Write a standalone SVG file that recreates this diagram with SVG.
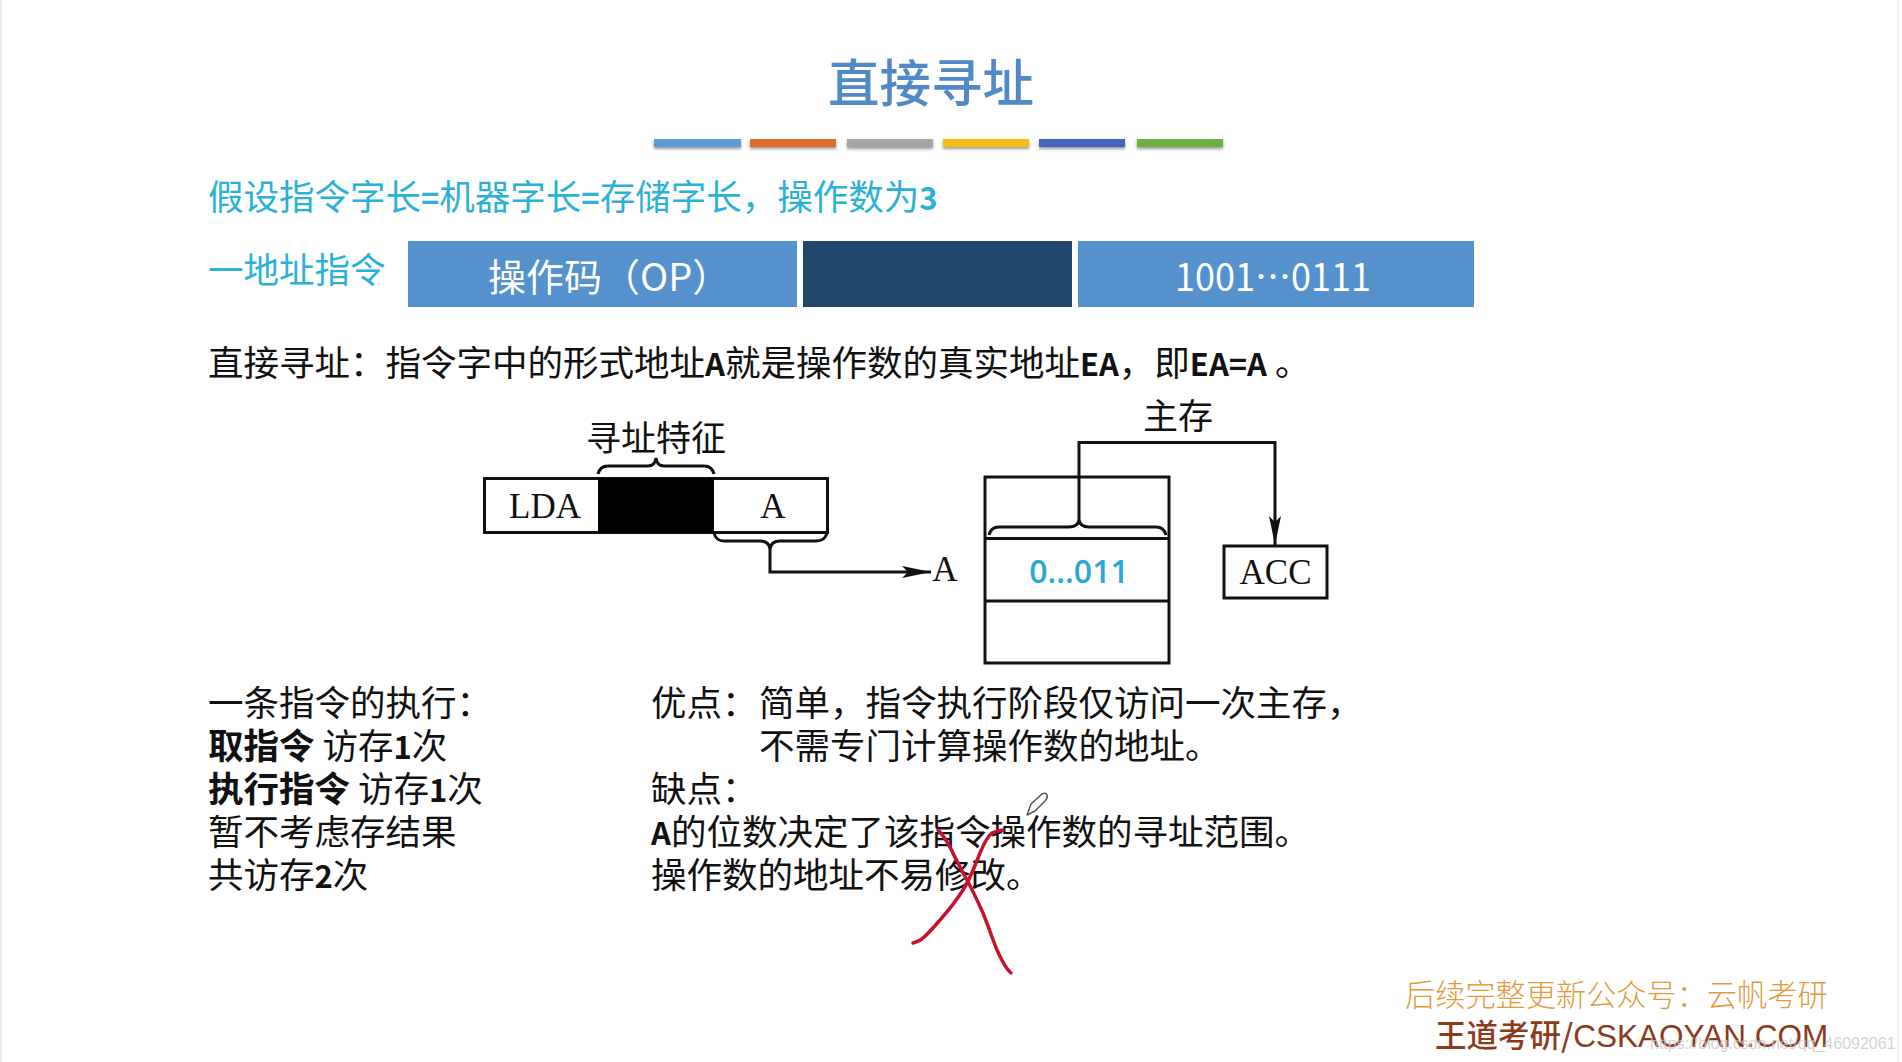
<svg xmlns="http://www.w3.org/2000/svg" width="1902" height="1062" viewBox="0 0 1902 1062">
<defs>
<style>
text{font-family:"Noto Sans CJK SC","Liberation Sans",sans-serif}
.b{font-size:35.500px;fill:#111}
.c{font-size:35.500px;fill:#2BB0D8}
.s{font-family:"Liberation Serif","Noto Sans CJK SC",serif;font-size:35px;fill:#111}
.w{font-size:38px;fill:#fff}
.l{fill:none;stroke:#111;stroke-width:3}
.red{fill:none;stroke:#C4122F;stroke-width:3.500;stroke-linecap:round;stroke-linejoin:round}
.m{font-weight:700;font-size:31px}
</style>
<marker id="ah" markerUnits="userSpaceOnUse" markerWidth="30" markerHeight="16" refX="29" refY="8" orient="auto"><path d="M0 2L29 8L0 14L6 8Z" fill="#111"/></marker>
<filter id="sh" x="-5%" y="-50%" width="110%" height="250%"><feDropShadow dx="0" dy="2" stdDeviation="1.500" flood-color="#000" flood-opacity=".4"/></filter>
</defs>
<rect width="1902" height="1062" fill="#fff"/>
<rect id="edge-left" width="2" height="1062" fill="#ebebeb"/>
<rect id="edge-right" x="1897" width="2" height="1062" fill="#f3f3f3"/>
<g id="title"><text x="931" y="102" text-anchor="middle" font-size="51.500" font-weight="500" fill="#4F8AC6">直接寻址</text></g>
<g id="bars" filter="url(#sh)">
<rect x="654" y="139" width="87" height="8" fill="#5B9BD5"/>
<rect x="750" y="139" width="86" height="8" fill="#E06C2C"/>
<rect x="847" y="139" width="86" height="8" fill="#A5A5A5"/>
<rect x="943" y="139" width="86" height="8" fill="#F5BC14"/>
<rect x="1039" y="139" width="86" height="8" fill="#4268BC"/>
<rect x="1137" y="139" width="86" height="8" fill="#6CB041"/>
</g>
<g id="assume"><text class="c" x="208" y="210">假设指令字长<tspan class="m">=</tspan>机器字长<tspan class="m">=</tspan>存储字长，操作数为<tspan class="m">3</tspan></text></g>
<g id="label-instr"><text class="c" x="208" y="283">一地址指令</text></g>
<g id="field-op"><rect x="408" y="241" width="389" height="66" fill="#5591CD"/><text class="w" x="488" y="291">操作码（OP）</text></g>
<g id="field-mode"><rect x="803" y="241" width="269" height="66" fill="#20466D"/></g>
<g id="field-addr"><rect x="1078" y="241" width="396" height="66" fill="#5591CD"/><text class="w" x="1273" y="291" text-anchor="middle" font-size="36" textLength="196" lengthAdjust="spacingAndGlyphs">1001⋯0111</text></g>
<g id="definition"><text class="b" x="208" y="376">直接寻址：指令字中的形式地址<tspan class="m">A</tspan>就是操作数的真实地址<tspan class="m">EA</tspan>，即<tspan class="m">EA=A</tspan> 。</text></g>
<g id="node-instruction">
<rect class="l" x="484.500" y="478.500" width="343" height="54"/>
<rect x="598" y="478" width="116" height="55" fill="#000"/>
<text class="s" x="545" y="518" text-anchor="middle" font-size="36">LDA</text>
<text class="s" x="773" y="518" text-anchor="middle">A</text>
<text class="s" x="656" y="451" text-anchor="middle" font-size="36">寻址特征</text>
<path class="l" d="M598 474Q600 466 608 466H648Q655 466 656 458Q657 466 664 466H704Q712 466 714 474"/>
<path class="l" d="M714 533Q716 541 724 541H760Q769 541 770 549Q771 541 780 541H816Q825 541 827 533"/>
</g>
<g id="node-a-label"><text class="s" x="945" y="581" text-anchor="middle">A</text></g>
<g id="node-memory">
<rect class="l" x="985" y="477" width="184" height="186"/>
<path class="l" d="M985 538.500H1169M985 601H1169"/>
<text x="1079" y="583" text-anchor="middle" font-size="32" font-weight="600" fill="#2BA7D3" style="font-family:'Open Sans','Liberation Sans',sans-serif">0...011</text>
<text class="s" x="1178" y="429" text-anchor="middle" font-size="36">主存</text>
<path class="l" d="M989 535Q991 527 999 527H1069Q1078 527 1079 520Q1080 527 1089 527H1156Q1164 527 1166 535"/>
</g>
<g id="node-acc"><rect class="l" x="1224" y="546" width="103" height="52"/><text class="s" x="1275.500" y="584" text-anchor="middle">ACC</text></g>
<g id="connectors">
<path class="l" d="M770 549V572H931" marker-end="url(#ah)"/>
<path class="l" d="M1079 520V442.500H1275V545" marker-end="url(#ah)"/>
</g>
<g id="exec-text">
<text class="b" x="208" y="716">一条指令的执行：</text>
<text class="b" x="208" y="759"><tspan font-weight="700">取指令</tspan> 访存<tspan class="m">1</tspan>次</text>
<text class="b" x="208" y="802"><tspan font-weight="700">执行指令</tspan> 访存<tspan class="m">1</tspan>次</text>
<text class="b" x="208" y="845">暂不考虑存结果</text>
<text class="b" x="208" y="888">共访存<tspan class="m">2</tspan>次</text>
</g>
<g id="pros-cons">
<text class="b" x="651" y="716">优点：</text>
<text class="b" x="759" y="716">简单，指令执行阶段仅访问一次主存，</text>
<text class="b" x="759" y="759">不需专门计算操作数的地址。</text>
<text class="b" x="651" y="802">缺点：</text>
<text class="b" x="651" y="845"><tspan class="m">A</tspan>的位数决定了该指令操作数的寻址范围。</text>
<text class="b" x="651" y="888">操作数的地址不易修改。</text>
</g>
<g id="annotation">
<path class="red" d="M938 830C944 836 948 843 952 851C957 862 962 871 967 880C973 891 978 902 983 913C988 925 992 938 997 950C1001 959 1006 969 1011 973"/>
<path class="red" d="M1003 830C998 831 994 832 992 833C986 838 983 846 980 853C975 866 970 879 963 890C956 901 948 911 940 920C934 927 929 933 923 938C920 941 916 942 913 943"/>
<path d="M1027 815L1031 804L1042 794Q1046 792 1047 795Q1048 798 1045 801L1035 811Z" fill="#fff" stroke="#555" stroke-width="1.500" stroke-linejoin="round"/>
</g>
<g id="footer">
<text x="1405" y="1006" font-size="30.200" font-weight="300" fill="#E39A3E">后续完整更新公众号：云帆考研</text>
<text x="1435" y="1047" font-size="31.500" font-weight="500" fill="#8C3A1C">王道考研/<tspan style="font-family:'Liberation Sans',sans-serif">CSKAOYAN.COM</tspan></text>
<text x="1650" y="1049" font-size="16" fill="#c9c9c9" fill-opacity=".8" style="font-family:'Liberation Sans',sans-serif">https://blog.csdn.net/qq_46092061</text>
</g>
</svg>
